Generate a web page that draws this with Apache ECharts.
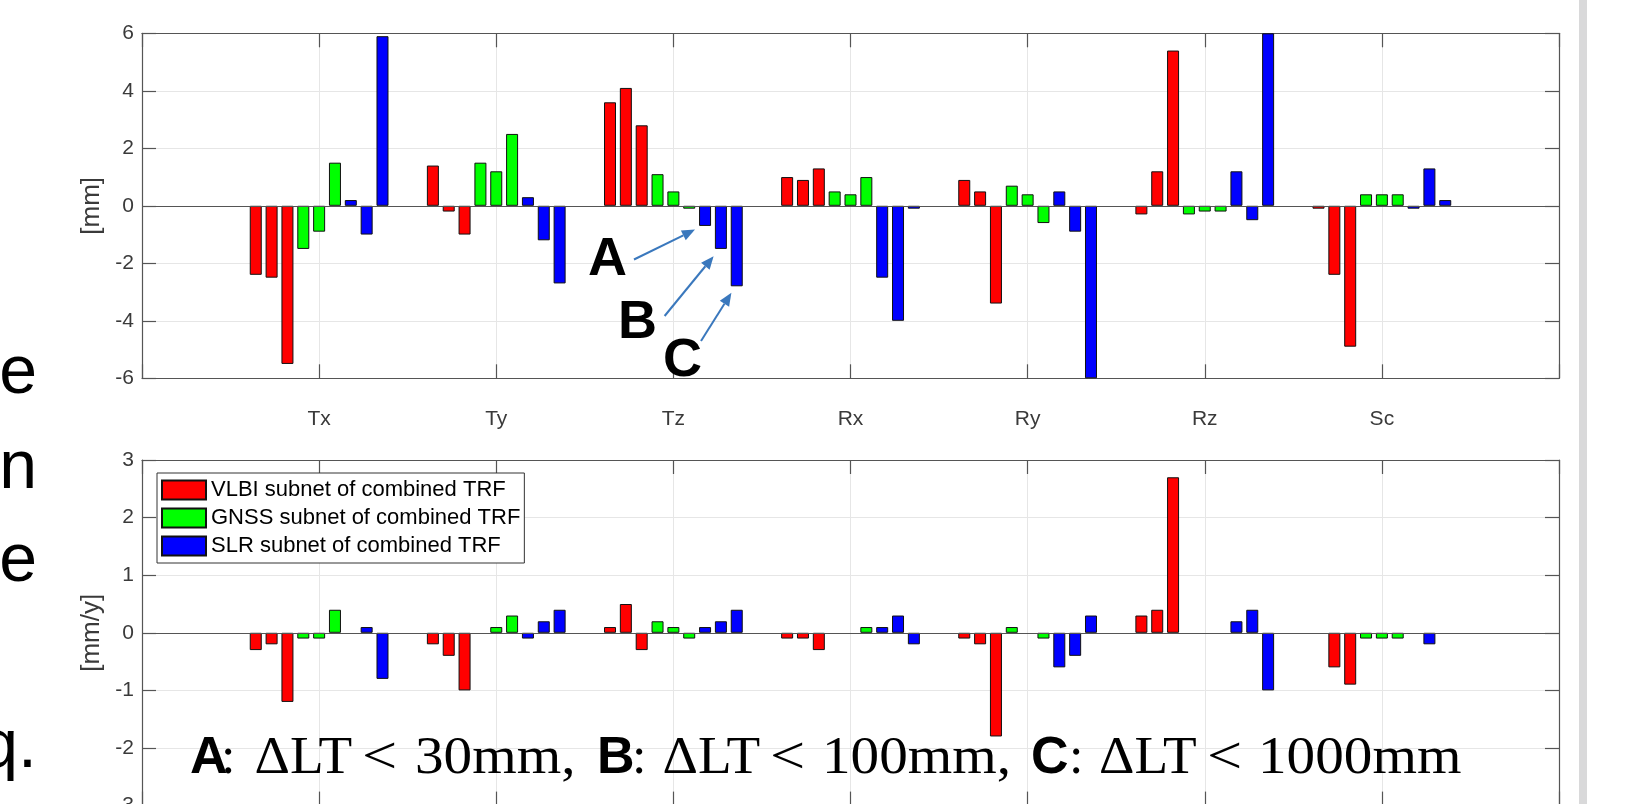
<!DOCTYPE html>
<html>
<head>
<meta charset="utf-8">
<script src="https://cdn.jsdelivr.net/npm/echarts@6/dist/echarts.min.js"></script>
<style>
  html, body { margin: 0; padding: 0; background: #fff; }
  #chart { width: 1646px; height: 804px; }
</style>
</head>
<body>
<div id="chart"></div>
<script>
// ---------------- data ----------------
const categories = ['Tx', 'Ty', 'Tz', 'Rx', 'Ry', 'Rz', 'Sc'];
const seriesNames = ['VLBI subnet of combined TRF', 'GNSS subnet of combined TRF', 'SLR subnet of combined TRF'];

// upper panel, offsets [mm]; A: dLT<30mm, B: dLT<100mm, C: dLT<1000mm
const vlbiA_mm = [-2.4, 1.4, 3.6, 1.0, 0.9, -0.3, -0.1];
const vlbiB_mm = [-2.5, -0.2, 4.1, 0.9, 0.5, 1.2, -2.4];
const vlbiC_mm = [-5.5, -1.0, 2.8, 1.3, -3.4, 5.4, -4.9];
const gnssA_mm = [-1.5, 1.5, 1.1, 0.5, 0.7, -0.3, 0.4];
const gnssB_mm = [-0.9, 1.2, 0.5, 0.4, 0.4, -0.2, 0.4];
const gnssC_mm = [1.5, 2.5, -0.1, 1.0, -0.6, -0.2, 0.4];
const slrA_mm = [0.2, 0.3, -0.7, -2.5, 0.5, 1.2, -0.1];
const slrB_mm = [-1.0, -1.2, -1.5, -4.0, -0.9, -0.5, 1.3];
const slrC_mm = [5.9, -2.7, -2.8, -0.1, -6.0, 6.0, 0.2];

// lower panel, rates [mm/y]
const vlbiA_mmy = [-0.3, -0.2, 0.1, -0.1, -0.1, 0.3, 0.0];
const vlbiB_mmy = [-0.2, -0.4, 0.5, -0.1, -0.2, 0.4, -0.6];
const vlbiC_mmy = [-1.2, -1.0, -0.3, -0.3, -1.8, 2.7, -0.9];
const gnssA_mmy = [-0.1, 0.0, 0.2, 0.0, 0.1, 0.0, -0.1];
const gnssB_mmy = [-0.1, 0.1, 0.1, 0.0, 0.0, 0.0, -0.1];
const gnssC_mmy = [0.4, 0.3, -0.1, 0.1, -0.1, 0.0, -0.1];
const slrA_mmy = [0.0, -0.1, 0.1, 0.1, -0.6, 0.2, 0.0];
const slrB_mmy = [0.1, 0.2, 0.2, 0.3, -0.4, 0.4, -0.2];
const slrC_mmy = [-0.8, 0.4, 0.4, -0.2, 0.3, -1.0, 0.0];

const yTicksTop = [-6, -4, -2, 0, 2, 4, 6];
const yTicksBottom = [-3, -2, -1, 0, 1, 2, 3];

// --------------- styling ---------------
const colors = ['#ff0000', '#00ff00', '#0000ff'];
const FRAME = '#555555';
const GRID = '#e6e6e6';
const LABEL = '#3a3a3a';
const SANS = "'Liberation Sans', Arial, sans-serif";
const SERIF = "'Liberation Serif', 'DejaVu Serif', serif";
const ARROW = '#3a78bd';

const axisData = [''].concat(categories, ['']);
const pad = arr => [null].concat(arr.map(v => v === 0 ? { value: 0, itemStyle: { borderWidth: 0 } } : v), [null]);

const topSets = [[vlbiA_mm, vlbiB_mm, vlbiC_mm], [gnssA_mm, gnssB_mm, gnssC_mm], [slrA_mm, slrB_mm, slrC_mm]];
const botSets = [[vlbiA_mmy, vlbiB_mmy, vlbiC_mmy], [gnssA_mmy, gnssB_mmy, gnssC_mmy], [slrA_mmy, slrB_mmy, slrC_mmy]];

function makeSeries(sets, axisIdx) {
  const out = [];
  sets.forEach((group, gi) => {
    group.forEach(vals => {
      out.push({
        type: 'bar',
        name: seriesNames[gi],
        xAxisIndex: axisIdx,
        yAxisIndex: axisIdx,
        data: pad(vals),
        barWidth: 12,
        barGap: '32%',
        itemStyle: { color: colors[gi], borderColor: '#111', borderWidth: 1 },
        emphasis: { disabled: true },
        animation: false
      });
    });
  });
  out[0].markLine = {
    silent: true, symbol: 'none', label: { show: false }, animation: false,
    lineStyle: { color: FRAME, width: 1.2, type: 'solid' },
    data: [{ yAxis: 0 }]
  };
  return out;
}

function xAxes(gridIndex, showLabels) {
  const base = {
    type: 'category', gridIndex, data: axisData, boundaryGap: false,
    axisLine: { show: true, onZero: false, lineStyle: { color: FRAME, width: 1.2 } },
    axisTick: { show: true, inside: true, length: 14, interval: 0, lineStyle: { color: FRAME, width: 1.2 } }
  };
  return [
    Object.assign({}, base, {
      position: 'bottom',
      axisLabel: { show: showLabels, interval: 0, margin: 30, fontSize: 21, color: LABEL, fontFamily: SANS },
      splitLine: { show: true, interval: 0, lineStyle: { color: GRID, width: 1 } }
    }),
    Object.assign({}, base, {
      position: 'top', axisLabel: { show: false }, splitLine: { show: false }
    })
  ];
}

function yAxes(gridIndex, ticks, name) {
  const min = ticks[0], max = ticks[ticks.length - 1], interval = ticks[1] - ticks[0];
  const base = {
    type: 'value', gridIndex, min, max, interval,
    axisLine: { show: true, lineStyle: { color: FRAME, width: 1.2 } },
    axisTick: { show: true, inside: true, length: 14, lineStyle: { color: FRAME, width: 1.2 } }
  };
  return [
    Object.assign({}, base, {
      position: 'left', name, nameLocation: 'middle', nameGap: 35,
      nameTextStyle: { fontSize: 26, color: LABEL, fontFamily: SANS },
      axisLabel: { margin: 8, fontSize: 21, color: LABEL, fontFamily: SANS },
      splitLine: { show: true, lineStyle: { color: GRID, width: 1 } }
    }),
    Object.assign({}, base, {
      position: 'right', axisLabel: { show: false }, splitLine: { show: false }
    })
  ];
}

function arrow(x1, y1, x2, y2) {
  const dx = x2 - x1, dy = y2 - y1, L = Math.hypot(dx, dy), ux = dx / L, uy = dy / L;
  const hl = 13, hw = 5.5;
  const bx = x2 - ux * hl, by = y2 - uy * hl;
  return [
    { type: 'line', silent: true, z: 100, shape: { x1, y1, x2: bx, y2: by }, style: { stroke: ARROW, lineWidth: 2 } },
    { type: 'polygon', silent: true, z: 100, shape: { points: [[x2, y2], [bx - uy * hw, by + ux * hw], [bx + uy * hw, by - ux * hw]] }, style: { fill: ARROW } }
  ];
}

function bigLetter(t, x, y) {
  return { type: 'text', silent: true, z: 100, x, y,
    style: { text: t, font: "bold 54px " + SANS, fill: '#000', align: 'center', verticalAlign: 'middle' } };
}

// formula line pieces (annotation text)
const FY = 759;
function piece(text, x, font, scaleX) {
  return { type: 'text', silent: true, z: 100, x, y: FY, scaleX: scaleX || 1, originX: 0, originY: 0,
    style: { text, font, fill: '#000', align: 'left', verticalAlign: 'middle' } };
}
function formula(xs, letter, thr) {
  return [
    piece(letter, xs[0], 'bold 52px ' + SANS),
    piece(':', xs[1], '52px ' + SERIF),
    piece('ΔLT', xs[2], '53px ' + SERIF, 1.04),
    piece('<', xs[3], '52px ' + SERIF, 1.2),
    piece(thr, xs[4], '52px ' + SERIF, 1.1)
  ];
}

function sideText(t, y) {
  return { type: 'text', silent: true, x: 37, y,
    style: { text: t, font: "68px " + SANS, fill: '#000', align: 'right', verticalAlign: 'middle' } };
}

const graphics = []
  .concat(arrow(634, 259.5, 695, 229.6))
  .concat(arrow(664.6, 316, 713.6, 256.2))
  .concat(arrow(701, 341, 731.4, 292.8))
  .concat(formula([190, 221, 254.5, 362, 415], 'A', '30mm,'))
  .concat(formula([597, 632, 662.5, 770, 822], 'B', '100mm,'))
  .concat(formula([1031, 1069, 1099, 1207, 1258], 'C', '1000mm'))
  .concat([
    bigLetter('A', 607.5, 260),
    bigLetter('B', 637.6, 323),
    bigLetter('C', 682.6, 361),
    sideText('e', 374),
    sideText('n', 469),
    sideText('e', 562),
    sideText('q.', 748),
    { type: 'rect', silent: true, shape: { x: 1579, y: 0, width: 8, height: 804 }, style: { fill: '#d9d9da' } }
  ]);

const chart = echarts.init(document.getElementById('chart'), null, { renderer: 'canvas' });
chart.setOption({
  backgroundColor: '#ffffff',
  animation: false,
  textStyle: { fontFamily: SANS },
  grid: [
    { left: 142, top: 33.3, width: 1417, height: 345, outerBoundsMode: 'none', containLabel: false },
    { left: 142, top: 460, width: 1417, height: 345.6, outerBoundsMode: 'none', containLabel: false }
  ],
  legend: {
    data: seriesNames,
    orient: 'vertical', left: 157, top: 473,
    icon: 'rect', itemWidth: 44, itemHeight: 19, itemGap: 6,
    padding: [6, 4, 6, 4],
    backgroundColor: '#fff', borderColor: '#333', borderWidth: 1,
    textStyle: { fontSize: 22, color: '#000', fontFamily: SANS, lineHeight: 19 },
    selectedMode: false
  },
  xAxis: xAxes(0, true).concat(xAxes(1, false)),
  yAxis: yAxes(0, yTicksTop, '[mm]').concat(yAxes(1, yTicksBottom, '[mm/y]')),
  series: makeSeries(topSets, 0).concat(makeSeries(botSets, 2).map(s => Object.assign(s, { xAxisIndex: 2, yAxisIndex: 2 }))),
  graphic: graphics
});
</script>
</body>
</html>
